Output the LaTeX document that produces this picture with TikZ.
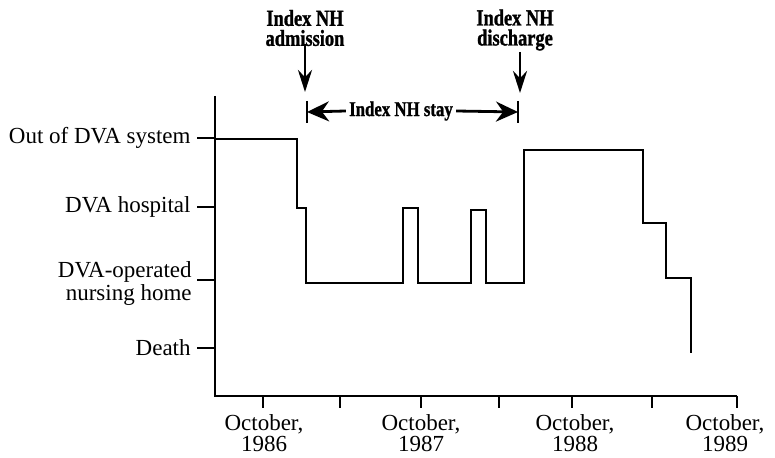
\documentclass[tikz,border=0pt]{standalone}
\usepackage{fontspec}
\setmainfont{Liberation Serif}
\newfontfamily\narrowbf{Liberation Serif}[FakeStretch=0.8, FakeBold=1.2]
\usepackage{tikz}
\usetikzlibrary{arrows.meta}

\begin{document}
\begin{tikzpicture}[x=0.5pt, y=-0.5pt, line width=1.4pt,
    every node/.style={font=\fontsize{11.5}{11.5}\selectfont, inner sep=0pt},
    event/.style={font=\narrowbf\bfseries\fontsize{11.5}{10}\selectfont, align=center},
    marker/.style={-{Stealth[length=11pt, width=7pt]}},
    span/.style={-{Stealth[length=11pt, width=10pt]}}]
    \useasboundingbox (0,0) rectangle (775,458);

    % Axes
    \draw (215,96) -- (215,396) -- (737,396);

    % States
    \draw (197,138) -- (215,138);
    \node[anchor=east] (out) at (192,138) {Out of DVA system};
    \draw (197,207) -- (215,207);
    \node[anchor=east] (hosp) at (192,207) {DVA hospital};
    \draw (197,280) -- (215,280);
    \node[anchor=east, align=right] (nh) at (193,284) {DVA-operated\\nursing home};
    \draw (197,348) -- (215,348);
    \node[anchor=east] (death) at (192,348) {Death};

    % Time axis
    \foreach \x in {263,340,421,499,572,652,737}
        \draw (\x,396) -- (\x,408);
    \tikzset{every node/.append style={font=\fontsize{11.5}{10.5}\selectfont}}
    \node[anchor=north, align=center] (y86) at (264,413) {October,\\1986};
    \node[anchor=north, align=center] (y87) at (421,413) {October,\\1987};
    \node[anchor=north, align=center] (y88) at (575,413) {October,\\1988};
    \node[anchor=north, align=center] (y89) at (725,413) {October,\\1989};

    % Patient history
    \draw (215,139) -- (297,139) -- (297,208) -- (306,208) -- (306,283)
        -- (403,283) -- (403,208) -- (418,208) -- (418,283)
        -- (471,283) -- (471,210) -- (486,210) -- (486,283)
        -- (524,283) -- (524,150) -- (643,150) -- (643,223)
        -- (666,223) -- (666,278) -- (691,278) -- (691,353);

    % Index NH events
    \node[event] (adm) at (305,28) {Index NH\\admission};
    \node[event] (dis) at (515,30) {Index NH\\discharge};
    \coordinate (admtip) at (305,92);
    \coordinate (distip) at (520,93);
    \draw[marker] (adm.south) ++(0,-3) -- (admtip);
    \draw[marker] (dis.south -| distip) -- (distip);

    % Index NH stay
    \coordinate (lbar) at (307,112);
    \coordinate (rbar) at (518,112);
    \draw (307,101) -- (307,123);
    \draw (518,101) -- (518,123);
    \node[event, font=\narrowbf\bfseries\fontsize{10.5}{10}\selectfont, inner xsep=1pt] (stay) at (401,111) {Index NH stay};
    \draw[span] (stay.west) -- (lbar);
    \draw[span] (stay.east) -- (rbar);
\end{tikzpicture}
\end{document}
